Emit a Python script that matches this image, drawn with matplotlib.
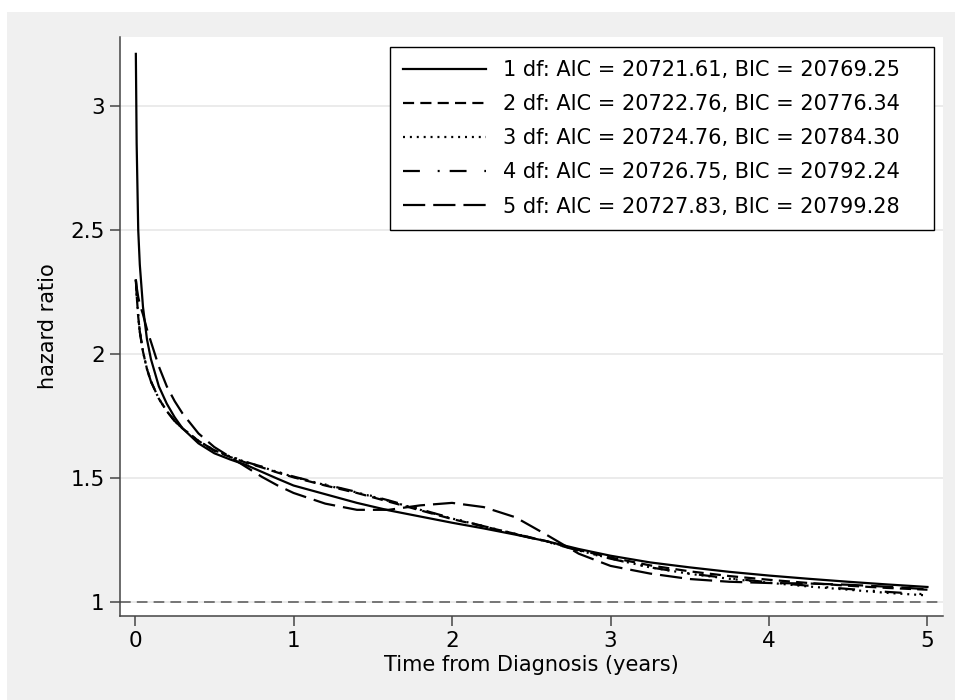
import matplotlib
matplotlib.use("Agg")
import matplotlib.pyplot as plt
from matplotlib.patches import Rectangle

plt.rcParams['font.family'] = ['DejaVu Sans']

t = [0.005, 0.01, 0.02, 0.03, 0.05, 0.075, 0.1, 0.15, 0.2, 0.25, 0.3, 0.4,
     0.5, 0.6, 0.7, 0.8, 0.9, 1.0, 1.2, 1.4, 1.6, 1.8, 2.0, 2.2, 2.4, 2.6,
     2.8, 3.0, 3.25, 3.5, 3.75, 4.0, 4.25, 4.5, 4.75, 5.0]

hr_1df = [3.21, 2.85, 2.50, 2.36, 2.19, 2.06, 1.98, 1.87, 1.80, 1.745, 1.70, 1.64,
          1.60, 1.575, 1.553, 1.525, 1.497, 1.47, 1.435, 1.40, 1.37, 1.345, 1.32, 1.297, 1.272, 1.245,
          1.214, 1.187, 1.16, 1.14, 1.122, 1.107, 1.094, 1.082, 1.071, 1.061]
hr_2df = [2.30, 2.24, 2.15, 2.09, 2.01, 1.94, 1.89, 1.82, 1.77, 1.73, 1.70, 1.65,
          1.61, 1.585, 1.562, 1.543, 1.522, 1.503, 1.47, 1.44, 1.405, 1.37, 1.335, 1.305, 1.275, 1.245,
          1.21, 1.18, 1.148, 1.124, 1.105, 1.09, 1.077, 1.066, 1.057, 1.05]
hr_3df = [2.30, 2.24, 2.15, 2.09, 2.01, 1.94, 1.89, 1.82, 1.77, 1.73, 1.70, 1.65,
          1.612, 1.587, 1.564, 1.545, 1.524, 1.505, 1.472, 1.442, 1.408, 1.372, 1.337, 1.306, 1.275, 1.244,
          1.208, 1.176, 1.14, 1.114, 1.094, 1.078, 1.063, 1.05, 1.037, 1.027]
hr_4df = [2.30, 2.24, 2.15, 2.09, 2.01, 1.94, 1.89, 1.82, 1.77, 1.73, 1.70, 1.65,
          1.612, 1.588, 1.565, 1.546, 1.525, 1.506, 1.474, 1.444, 1.41, 1.374, 1.338, 1.306, 1.274, 1.243,
          1.207, 1.175, 1.14, 1.115, 1.096, 1.08, 1.066, 1.053, 1.041, 1.031]
hr_5df = [2.30, 2.27, 2.23, 2.20, 2.16, 2.10, 2.05, 1.95, 1.87, 1.81, 1.76, 1.68,
          1.625, 1.585, 1.545, 1.505, 1.47, 1.44, 1.397, 1.372, 1.372, 1.39, 1.40, 1.383, 1.342, 1.27,
          1.195, 1.146, 1.115, 1.093, 1.082, 1.077, 1.075, 1.07, 1.062, 1.052]

labels = ["1 df: AIC = 20721.61, BIC = 20769.25",
          "2 df: AIC = 20722.76, BIC = 20776.34",
          "3 df: AIC = 20724.76, BIC = 20784.30",
          "4 df: AIC = 20726.75, BIC = 20792.24",
          "5 df: AIC = 20727.83, BIC = 20799.28"]

xticks = [0, 1, 2, 3, 4, 5]
yticks = [1, 1.5, 2, 2.5, 3]
ytick_labels = ["1", "1.5", "2", "2.5", "3"]

fig = plt.figure(figsize=(9.55, 7), dpi=100, facecolor='white')
# grey graph region (a thin white strip remains at top and left)
fig.patches.append(Rectangle((7 / 955, 0), 1, 1 - 12 / 700, transform=fig.transFigure,
                             facecolor='#f0f0f0', edgecolor='none', zorder=-10))

ax = fig.add_axes([120 / 955, 84 / 700, 823 / 955, 579 / 700])
ax.set_facecolor('white')

lw = 1.6
ax.plot(t, hr_1df, color='black', lw=lw, linestyle='-', label=labels[0])
ax.plot(t, hr_2df, color='black', lw=lw, linestyle=(0, (5, 2.8)), label=labels[1])
ax.plot(t, hr_3df, color='black', lw=lw, linestyle=(0, (0.9, 2.2)), label=labels[2])
ax.plot(t, hr_4df, color='black', lw=lw, linestyle=(0, (7.6, 8, 0.9, 4.5)), label=labels[3])
ax.plot(t, hr_5df, color='black', lw=lw, linestyle=(0, (10, 3.6)), label=labels[4])

ax.axhline(1, color='#555555', lw=1.1, linestyle=(0, (7, 4)), zorder=1)

ax.set_xlim(-0.095, 5.098)
ax.set_ylim(0.944, 3.278)
ax.set_xticks(xticks)
ax.set_yticks(yticks)
ax.set_yticklabels(ytick_labels)

ax.grid(axis='y', color='#e6e6e6', lw=1.1, zorder=0)
ax.set_axisbelow(True)
for side in ['top', 'right']:
    ax.spines[side].set_visible(False)
for side in ['left', 'bottom']:
    ax.spines[side].set_color('#444444')
    ax.spines[side].set_linewidth(1.1)
ax.tick_params(axis='both', direction='out', length=7, width=1.1, color='#444444',
               labelsize=15.5, pad=4)

ax.set_xlabel("Time from Diagnosis (years)", fontsize=15, labelpad=3)
ax.set_ylabel("hazard ratio", fontsize=15, labelpad=9)

# legend box spans x 390..934 px, top at y 47 px
leg = ax.legend(loc='upper left', mode='expand',
                bbox_to_anchor=(390 / 955, 0.5, 544 / 955, 653 / 700 - 0.5),
                bbox_transform=fig.transFigure, borderaxespad=0, fontsize=15,
                handlelength=4.0, handletextpad=0.8, labelspacing=0.68,
                borderpad=0.62, fancybox=False, framealpha=1, edgecolor='black')
leg.get_frame().set_linewidth(1.0)

fig.savefig("out.png", dpi=100, facecolor=fig.get_facecolor())
